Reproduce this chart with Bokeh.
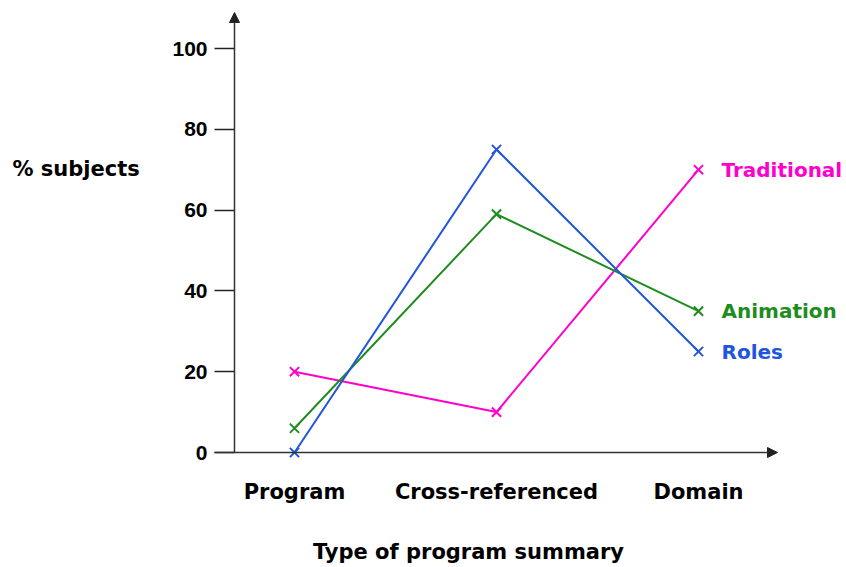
from bokeh.plotting import figure
from bokeh.models import (Range1d, FixedTicker, Arrow, NormalHead, Label,
                          ColumnDataSource, LinearAxis)
from bokeh.core.properties import value
from bokeh.embed import file_html
from bokeh.resources import INLINE

categories = ["Program", "Cross-referenced", "Domain"]
series_names = ["Traditional", "Animation", "Roles"]
traditional = [20, 10, 70]
animation = [6, 59, 35]
roles = [0, 75, 25]
y_ticks = [0, 20, 40, 60, 80, 100]

colors = ["#ff00cc", "#1f8c1f", "#2255dd"]
FONT = "DejaVu Sans"
NUM_FONT = "Liberation Sans"

xs = list(range(len(categories)))

# frame covers the full canvas: x pixel = 294 + 202*x, y pixel = 452 - 4.04*y
p = figure(width=846, height=567, output_backend="svg", toolbar_location=None,
           x_range=Range1d(-294 / 202, (846 - 294) / 202),
           y_range=Range1d(-(567 - 452) / 4.04, 452 / 4.04),
           x_axis_location=None, y_axis_location=None,
           min_border=0, outline_line_color=None)
p.grid.visible = False

y_axis_x = -60 / 202   # y axis at pixel 234
x_axis_left = -80 / 202  # x axis starts at pixel 214
x_axis_right = 483 / 202  # arrow tip at pixel 777
y_axis_top = 440 / 4.04  # arrow tip at pixel 12

ya = LinearAxis(fixed_location=y_axis_x, ticker=FixedTicker(ticks=y_ticks))
ya.axis_line_color = None
ya.major_tick_in = 0
ya.major_tick_out = 20
ya.minor_tick_line_color = None
ya.major_tick_line_color = "#222222"
ya.major_tick_line_width = 1.5
ya.major_label_standoff = 7
ya.major_label_text_font = NUM_FONT
ya.major_label_text_font_style = "bold"
ya.major_label_text_font_size = "21px"
ya.major_label_text_color = "black"
p.add_layout(ya, "left")

xa = LinearAxis(fixed_location=0, ticker=FixedTicker(ticks=xs))
xa.major_label_overrides = {i: c for i, c in zip(xs, categories)}
xa.axis_line_color = None
xa.major_tick_line_color = None
xa.major_tick_out = 0
xa.major_tick_in = 0
xa.minor_tick_line_color = None
xa.major_label_standoff = 27
xa.major_label_text_font = FONT
xa.major_label_text_font_style = "bold"
xa.major_label_text_font_size = "21px"
xa.major_label_text_color = "black"
p.add_layout(xa, "below")

p.add_layout(Arrow(end=NormalHead(size=10, fill_color="#222222", line_color="#222222"),
                   x_start=y_axis_x, y_start=0, x_end=y_axis_x, y_end=y_axis_top,
                   line_color="#333333", line_width=1.5))
p.add_layout(Arrow(end=NormalHead(size=10, fill_color="#222222", line_color="#222222"),
                   x_start=x_axis_left, y_start=0, x_end=x_axis_right, y_end=0,
                   line_color="#333333", line_width=1.5))

for name, vals, col in zip(series_names, [traditional, animation, roles], colors):
    src = ColumnDataSource(dict(x=xs, y=vals))
    p.line("x", "y", source=src, line_color=col, line_width=2)
    p.scatter("x", "y", source=src, marker="x", size=13, line_color=col, line_width=2)
    p.text(x=[xs[-1]], y=[vals[-1]], text=[name], x_offset=23, text_baseline="middle",
           text_align="left", text_color=col, text_font=value(FONT),
           text_font_style="bold", text_font_size="20px")

p.add_layout(Label(x=12, y=567 - 168, x_units="screen", y_units="screen",
                   text="% subjects", text_font=FONT, text_font_style="bold",
                   text_font_size="21px", text_baseline="middle", text_color="black"))
p.add_layout(Label(x=468, y=567 - 551, x_units="screen", y_units="screen",
                   text="Type of program summary", text_font=FONT, text_font_style="bold",
                   text_font_size="21px", text_baseline="middle", text_align="center",
                   text_color="black"))

open("out.html", "w").write(file_html(p, INLINE))
